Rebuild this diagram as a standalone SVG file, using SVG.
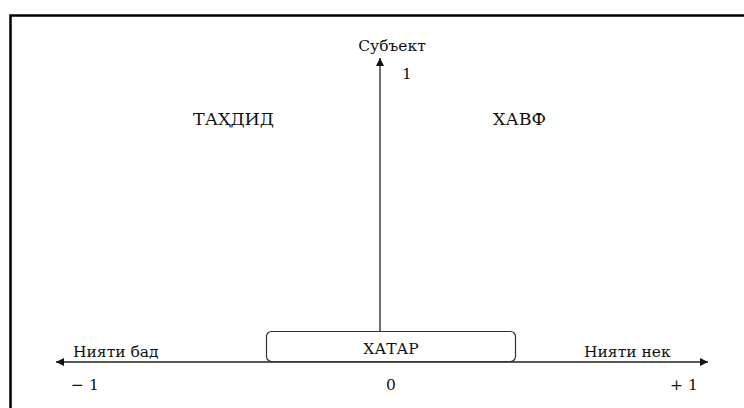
<svg xmlns="http://www.w3.org/2000/svg" width="744" height="408" viewBox="0 0 744 408">
<style>
text{font-family:'DejaVu Serif',serif;font-size:15.5px;fill:#111}
.c{text-anchor:middle}
.big{font-size:17.5px}
.ax{stroke:#222;stroke-width:1.3;fill:none}
</style>
<defs>
<marker id="ah" viewBox="0 0 10 10" refX="10" refY="5" markerWidth="10" markerHeight="8" markerUnits="userSpaceOnUse" orient="auto">
<path d="M0,0 L10,5 L0,10 z" fill="#111"/>
</marker>
</defs>
<rect width="744" height="408" fill="#fff"/>
<path d="M10.5,408 V15.5 H744" fill="none" stroke="#000" stroke-width="2.5"/>
<g id="connectors">
<line class="ax" x1="380" y1="362" x2="380" y2="58" marker-end="url(#ah)"/>
<line class="ax" x1="380" y1="362" x2="56" y2="362" marker-end="url(#ah)"/>
<line class="ax" x1="380" y1="362" x2="708" y2="362" marker-end="url(#ah)"/>
</g>
<g id="khatar">
<rect x="266.5" y="331.5" width="249" height="30" rx="5" fill="#fff" stroke="#333" stroke-width="1.2"/>
<text class="c" x="391" y="354">ХАТАР</text>
</g>
<g id="subyekt"><text class="c" x="392" y="51">Субъект</text><text x="402" y="79">1</text></g>
<g id="tahdid"><text class="big" x="193" y="125">ТАҲДИД</text></g>
<g id="khavf"><text class="big" x="493" y="125">ХАВФ</text></g>
<g id="niyati-bad"><text x="73" y="357">Нияти бад</text><text x="71" y="390">− 1</text></g>
<g id="niyati-nek"><text x="584" y="357">Нияти нек</text><text x="670" y="390">+ 1</text></g>
<g id="zero"><text class="c" x="391" y="390">0</text></g>
</svg>
